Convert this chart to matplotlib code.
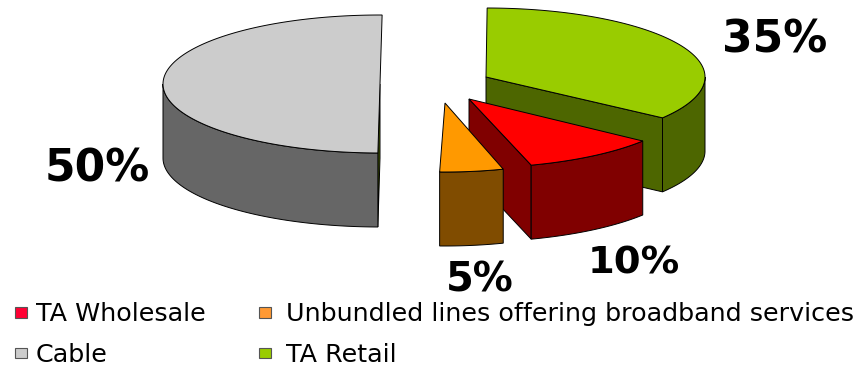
import matplotlib
matplotlib.use('Agg')
import matplotlib.pyplot as plt
from matplotlib.patches import Polygon, Rectangle
import numpy as np

# drawing order is back to front, angles run clockwise from the top
categories = ['TA Retail', 'Cable', 'TA Wholesale', 'Unbundled lines offering broadband services']
shares = [35, 50, 10, 5]
start_shares = [0, 50, 35, 45]
percent_labels = ['35%', '50%', '10%', '5%']

top_colors = ['#99cc00', '#cccccc', '#ff0000', '#ff9900']
side_colors = ['#4d6600', '#666666', '#800000', '#804c00']
cut_colors = ['#4d6600', '#4d6600', '#800000', '#804c00']
legend_colors = ['#99cc00', '#cccccc', '#ff0033', '#ff9933']

# layout in pixels of the 855x365 picture
centers = [(486, 77), (380, 84), (469, 99), (445, 103)]
radii_x = [219, 217, 219, 205]
rotations = [0.3, 0.56, 1.5, 1.5]
radius_y = 69
depth = 74
label_spots = [(775, 40, 31.7), (97, 169, 31.7), (634, 263, 27.7), (480, 280, 28.8)]
# marker x, text x, baseline y for each category
legend_spots = [(259, 286, 361.5), (15, 36, 361.5), (15, 36, 321), (259, 286, 321)]

fig = plt.figure(figsize=(8.55, 3.65), dpi=100)
ax = fig.add_axes([0, 0, 1, 1])
ax.set_xlim(0, 855)
ax.set_ylim(365, 0)
ax.axis('off')


def rim(center, rx, angles):
    rad = np.radians(angles)
    return np.column_stack([center[0] + rx * np.sin(rad), center[1] - radius_y * np.cos(rad)])


def draw_slice(i):
    center, rx = centers[i], radii_x[i]
    t0 = start_shares[i] * 3.6 + rotations[i]
    t1 = t0 + shares[i] * 3.6
    drop = np.array([0, depth])
    apex = np.array(center, dtype=float)

    # cut face turned to the viewer
    if t1 < 180:
        edge = rim(center, rx, [t1])[0]
    elif t0 > 180:
        edge = rim(center, rx, [t0])[0]
    else:
        edge = None
    if edge is not None:
        ax.add_patch(Polygon([apex, edge, edge + drop, apex + drop], closed=True,
                             facecolor=cut_colors[i], edgecolor='black', linewidth=0.7))

    # outer wall, front half only
    a0, a1 = max(t0, 90), min(t1, 270)
    if a1 > a0:
        arc = rim(center, rx, np.linspace(a0, a1, 80))
        ax.add_patch(Polygon(np.vstack([arc, arc[::-1] + drop]), closed=True,
                             facecolor=side_colors[i], edgecolor='black', linewidth=0.7))

    # top surface
    arc = rim(center, rx, np.linspace(t0, t1, 160))
    ax.add_patch(Polygon(np.vstack([apex, arc]), closed=True,
                         facecolor=top_colors[i], edgecolor='black', linewidth=0.7))


for i in range(len(categories)):
    draw_slice(i)

for text, (x, y, size) in zip(percent_labels, label_spots):
    ax.text(x, y, text, fontsize=size, fontweight='bold', ha='center', va='center',
            family='DejaVu Sans', color='black')

# legend by hand, the two columns have different gaps to the text
for name, color, (mark_x, text_x, base_y) in zip(categories, legend_colors, legend_spots):
    ax.add_patch(Rectangle((mark_x, base_y - 14), 12, 10.5, facecolor=color,
                           edgecolor='#555555', linewidth=0.8))
    ax.text(text_x, base_y, name, fontsize=18.3, ha='left', va='baseline', color='black')

fig.savefig('out.png', dpi=100)
